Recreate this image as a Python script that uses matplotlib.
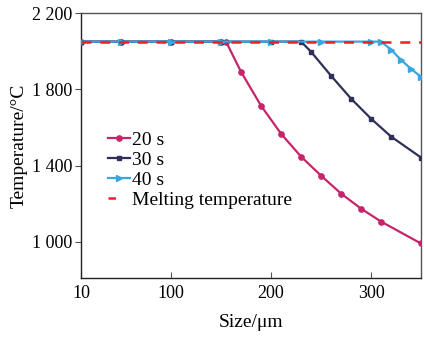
import matplotlib
matplotlib.use("Agg")
import matplotlib.pyplot as plt
from matplotlib.ticker import FuncFormatter

# data
size_20 = [10, 50, 100, 150, 155, 170, 190, 210, 230, 250, 270, 290, 310, 350]
temp_20 = [2050, 2050, 2050, 2050, 2050, 1892, 1714, 1567, 1447, 1347, 1253, 1174, 1106, 991]

size_30 = [10, 50, 100, 150, 200, 230, 240, 260, 280, 300, 320, 350]
temp_30 = [2050, 2050, 2050, 2050, 2050, 2050, 1997, 1871, 1751, 1646, 1552, 1442]

size_40 = [10, 50, 100, 150, 200, 250, 300, 310, 320, 330, 340, 350]
temp_40 = [2050, 2050, 2050, 2050, 2050, 2050, 2050, 2050, 2008, 1954, 1907, 1865]

melting_temp = 2050

x_ticks = [10, 100, 200, 300]
y_ticks = [1000, 1400, 1800, 2200]

plt.rcParams["font.family"] = ["Liberation Serif", "DejaVu Serif"]
plt.rcParams["font.size"] = 13

fig = plt.figure(figsize=(4.24, 3.38), dpi=100)
ax = fig.add_axes([0.191, 0.1775, 0.802, 0.784])

ax.plot(size_20, temp_20, color="#c8246a", lw=1.6, marker="o", ms=3.8, label="20 s", zorder=3)
ax.plot(size_30, temp_30, color="#2f3058", lw=1.6, marker="s", ms=3.2, label="30 s", zorder=4)
ax.plot(size_40, temp_40, color="#38a6e0", lw=1.6, marker=">", ms=4.2, label="40 s", zorder=5)
ax.axhline(melting_temp, color="#e8202a", ls=(0, (4, 3.5)), lw=1.8,
           label="Melting temperature", zorder=6)

ax.set_xlim(10, 350)
ax.set_ylim(810, 2200)
ax.set_xticks(x_ticks)
ax.set_yticks(y_ticks)
ax.yaxis.set_major_formatter(FuncFormatter(lambda v, p: f"{v:,.0f}".replace(",", " ")))
ax.tick_params(axis="x", direction="in", length=4, color="#555555", pad=5, labelsize=13)
ax.tick_params(axis="y", direction="out", length=4, color="#555555", pad=2, labelsize=13)

for s in ax.spines.values():
    s.set_color("#555555")
    s.set_linewidth(1.0)
ax.spines["bottom"].set_color("#222222")
ax.spines["left"].set_color("#222222")

ax.set_xlabel("Size/μm", fontsize=14, labelpad=9)
ax.set_ylabel("Temperature/°C", fontsize=14, labelpad=3)

leg = ax.legend(loc="upper left", bbox_to_anchor=(0.08, 0.555), frameon=False,
                fontsize=14, handlelength=1.1, handletextpad=0.1, labelspacing=0.13,
                borderaxespad=0, borderpad=0)
leg.legend_handles[3].set_linestyle((0, (3, 30)))

fig.savefig("out.png", dpi=100)
